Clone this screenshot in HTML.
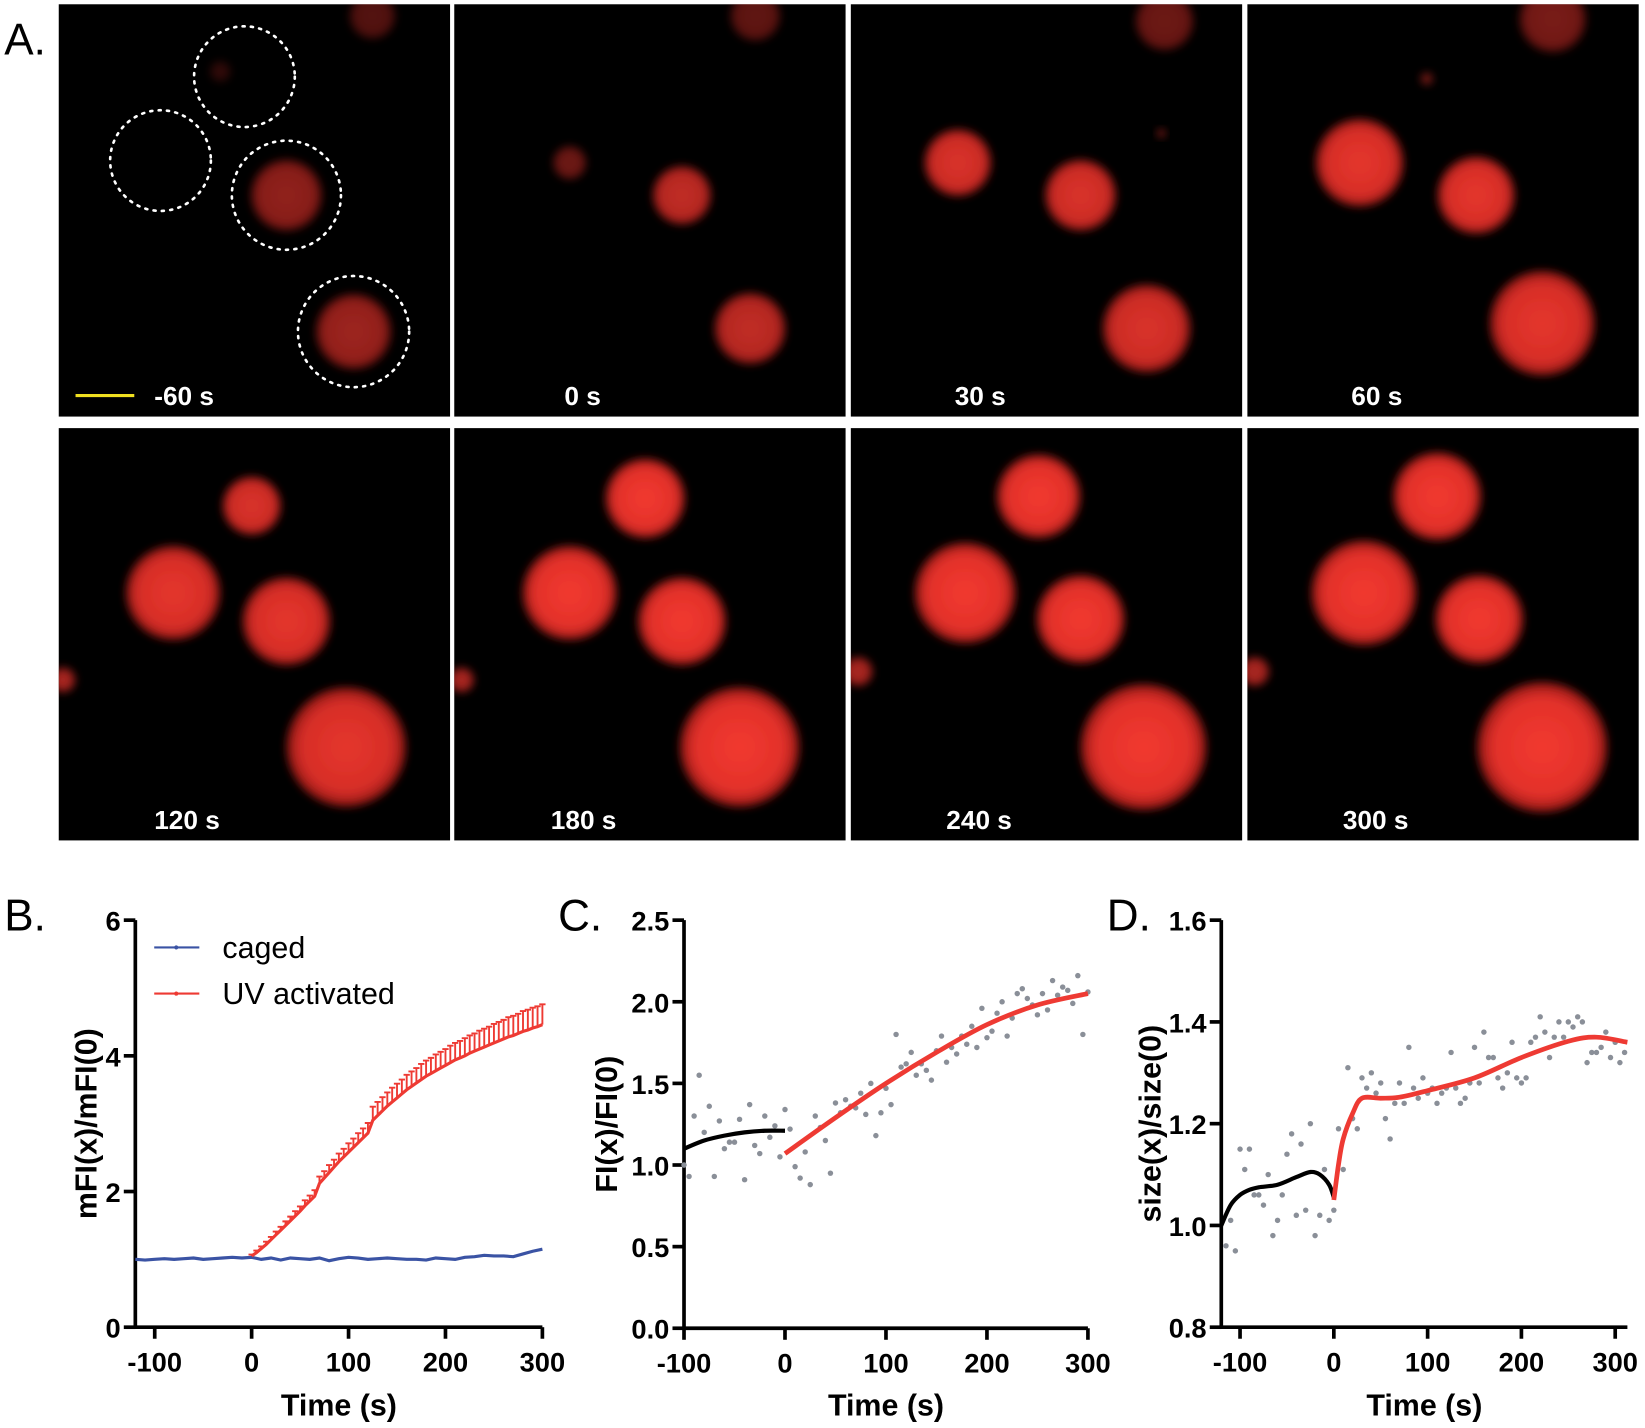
<!DOCTYPE html>
<html><head><meta charset="utf-8"><style>
html,body{margin:0;padding:0;background:#fff;}
svg{display:block;font-family:"Liberation Sans",Arial,sans-serif;}
.tick{font-weight:bold;font-size:26px;}
.lab{font-weight:bold;font-size:29px;}
.plab{font-size:42px;}
.tl{fill:#fff;font-weight:bold;font-size:25px;}
</style></head><body>
<svg id="fig" width="1645" height="1428" viewBox="0 0 1568 1361" xmlns="http://www.w3.org/2000/svg">
<defs>
<filter id="blur" x="-50%" y="-50%" width="200%" height="200%"><feGaussianBlur stdDeviation="4"/></filter>
<radialGradient id="rg"><stop offset="0" stop-color="#f23a30"/><stop offset="0.75" stop-color="#e2302a"/><stop offset="1" stop-color="#8a1612"/></radialGradient>
</defs>
<text x="4" y="52" class="plab">A.</text>
<g id="panelA"></g>
<text x="4" y="887" class="plab">B.</text>
<text x="532" y="887" class="plab">C.</text>
<text x="1055" y="887" class="plab">D.</text>
<g id="chartB"></g>
<g id="chartC"></g>
<g id="chartD"></g>
</svg>
<script>
// ---- Chart B data ----
const bBlueStart = -120, bBlueStep = 10;
const bBlue = [1.0,0.99,1.0,1.01,1.0,1.01,1.02,1.0,1.01,1.02,1.03,1.02,1.03,1.0,1.02,0.99,1.02,1.01,1.0,1.02,0.98,1.01,1.03,1.02,1.0,1.01,1.02,1.01,1.0,1.0,0.99,1.02,1.01,1.0,1.03,1.04,1.06,1.05,1.05,1.04,1.08,1.12,1.15];
const bRedStart = 0, bRedStep = 5;
const bRed = [1.05,1.1,1.16,1.22,1.29,1.36,1.43,1.5,1.57,1.64,1.71,1.79,1.86,1.93,2.12,2.2,2.28,2.36,2.44,2.51,2.58,2.65,2.72,2.79,2.86,3.05,3.12,3.19,3.26,3.32,3.38,3.44,3.5,3.55,3.6,3.65,3.7,3.74,3.78,3.82,3.86,3.9,3.94,3.97,4.0,4.04,4.07,4.1,4.13,4.16,4.19,4.22,4.25,4.28,4.3,4.33,4.36,4.38,4.41,4.43,4.46];
const bRedErr = [.02,.03,.03,.04,.04,.05,.05,.06,.06,.07,.07,.08,.08,.09,.1,.1,.11,.11,.12,.12,.13,.13,.14,.14,.15,.2,.2,.2,.2,.21,.21,.21,.22,.22,.22,.23,.23,.23,.24,.24,.24,.25,.25,.25,.26,.26,.26,.27,.27,.27,.28,.28,.28,.29,.29,.29,.3,.3,.3,.3,.3];
const bXTicks = [-100,0,100,200,300];
const bYTicks = [0,2,4,6];
// ---- Chart C data ----
const cDotT = [-100,-95,-90,-85,-80,-75,-70,-65,-60,-55,-50,-45,-40,-35,-30,-25,-20,-15,-10,-5,0,5,10,15,20,25,30,35,40,45,50,55,60,65,70,75,80,85,90,95,100,105,110,115,120,125,130,135,140,145,150,155,160,165,170,175,180,185,190,195,200,205,210,215,220,225,230,235,240,245,250,255,260,265,270,275,280,285,290,295,300];
const cDotV = [1.0,0.93,1.3,1.55,1.2,1.36,0.93,1.27,1.1,1.14,1.14,1.28,0.91,1.37,1.12,1.07,1.3,1.17,1.24,1.05,1.34,1.22,0.99,0.92,1.08,0.88,1.3,1.23,1.15,0.95,1.38,1.32,1.4,1.36,1.35,1.44,1.31,1.5,1.18,1.32,1.47,1.37,1.8,1.6,1.62,1.69,1.55,1.62,1.58,1.52,1.7,1.79,1.63,1.72,1.68,1.79,1.74,1.85,1.72,1.96,1.78,1.82,1.93,2.0,1.79,1.9,2.05,2.08,2.02,1.98,1.92,2.05,1.95,2.13,2.04,2.09,2.07,1.99,2.16,1.8,2.06];
const cBlackT = [-100,-80,-60,-40,-20,0];
const cBlackV = [1.1,1.15,1.18,1.2,1.21,1.21];
const cRedT = [0,50,100,150,200,250,300];
const cRedV = [1.07,1.29,1.5,1.69,1.86,1.98,2.05];
const cXTicks = [-100,0,100,200,300];
const cYTicks = [0.0,0.5,1.0,1.5,2.0,2.5];
// ---- Chart D data ----
const dDotT = [-115,-110,-105,-100,-95,-90,-85,-80,-75,-70,-65,-60,-55,-50,-45,-40,-35,-30,-25,-20,-15,-10,-5,0,5,10,15,20,25,30,35,40,45,50,55,60,65,70,75,80,85,90,95,100,105,110,115,120,125,130,135,140,145,150,155,160,165,170,175,180,185,190,195,200,205,210,215,220,225,230,235,240,245,250,255,260,265,270,275,280,285,290,295,300,305,310];
const dDotV = [0.96,1.01,0.95,1.15,1.11,1.15,1.06,1.06,1.04,1.1,0.98,1.01,1.06,1.14,1.18,1.02,1.16,1.03,1.2,0.98,1.02,1.11,1.01,1.03,1.19,1.11,1.31,1.21,1.19,1.29,1.27,1.3,1.26,1.28,1.21,1.17,1.24,1.28,1.24,1.35,1.27,1.25,1.29,1.26,1.27,1.24,1.26,1.27,1.34,1.27,1.24,1.25,1.28,1.35,1.28,1.38,1.33,1.33,1.29,1.27,1.3,1.36,1.29,1.28,1.29,1.36,1.37,1.41,1.38,1.33,1.37,1.4,1.37,1.4,1.39,1.41,1.4,1.32,1.34,1.34,1.35,1.38,1.33,1.36,1.32,1.34];
const dBlackT = [-120,-110,-100,-90,-80,-60,-40,-25,-15,-5,0];
const dBlackV = [1.0,1.04,1.06,1.07,1.075,1.08,1.095,1.105,1.1,1.08,1.055];
const dRedT = [0,5,10,20,30,50,70,100,150,200,250,280,313];
const dRedV = [1.05,1.12,1.17,1.22,1.25,1.25,1.252,1.265,1.29,1.33,1.362,1.37,1.36];
const dXTicks = [-100,0,100,200,300];
const dYTicks = [0.8,1.0,1.2,1.4,1.6];

const NS='http://www.w3.org/2000/svg';
function mk(tag, parent, attrs){const e=document.createElementNS(NS,tag);for(const k in attrs)e.setAttribute(k,attrs[k]);parent.appendChild(e);return e;}
function smooth(pts){let d='M'+pts[0][0]+','+pts[0][1];for(let i=0;i<pts.length-1;i++){const p0=pts[Math.max(0,i-1)],p1=pts[i],p2=pts[i+1],p3=pts[Math.min(pts.length-1,i+2)];const c1=[p1[0]+(p2[0]-p0[0])/6,p1[1]+(p2[1]-p0[1])/6],c2=[p2[0]-(p3[0]-p1[0])/6,p2[1]-(p3[1]-p1[1])/6];d+=' C'+c1[0]+','+c1[1]+' '+c2[0]+','+c2[1]+' '+p2[0]+','+p2[1];}return d;}

function axes(g, sx, sy, xmin, xmax, ymin, ymax, xt, yt, fmt, xlabel, ylabel, ylx){
  const x0=sx(xmin), x1=sx(xmax), y0=sy(ymin), y1=sy(ymax);
  const ya=mk('line',g,{x1:x0,y1:y0+1.5,x2:x0,y2:y1,stroke:'#000','stroke-width':3.5});
  
  
  const xa=mk('line',g,{x1:x0-1.5,y1:y0,x2:x1,y2:y0,stroke:'#000','stroke-width':3.5});
  
  
  xt.forEach(v=>{const x=sx(v);mk('line',g,{x1:x,y1:y0,x2:x,y2:y0+11,stroke:'#000','stroke-width':3.5});
    const t=mk('text',g,{x:x,y:y0+42,'text-anchor':'middle',class:'tick'});t.textContent=v;
    
    });
  yt.forEach(v=>{const y=sy(v);mk('line',g,{x1:x0-11,y1:y,x2:x0,y2:y,stroke:'#000','stroke-width':3.5});
    const t=mk('text',g,{x:x0-14,y:y+10,'text-anchor':'end',class:'tick'});t.textContent=fmt(v);
    
    });
  const xl=mk('text',g,{x:(x0+x1)/2,y:1349,'text-anchor':'middle',class:'lab'});xl.textContent=xlabel;
  
  
  const yl=mk('text',g,{x:0,y:0,'text-anchor':'middle',class:'lab',transform:'translate('+ylx+','+((y0+y1)/2)+') rotate(-90)'});yl.textContent=ylabel;
  
  
}

// Chart B
(function(){
  const g=document.getElementById('chartB');
  const sx=v=>129+(v+120)/420*388, sy=v=>1265-v/6*388;
  axes(g,sx,sy,-120,300,0,6,bXTicks,bYTicks,v=>v,'Time (s)','mFI(x)/mFI(0)',92);
  const bp=bBlue.map((v,i)=>[sx(bBlueStart+i*bBlueStep),sy(v)]);
  const bl=mk('polyline',g,{points:bp.map(p=>p.join(',')).join(' '),fill:'none',stroke:'#3a53a4','stroke-width':3});
  
  
  bRed.forEach((v,i)=>{const x=sx(bRedStart+i*bRedStep);
    const eb=mk('path',g,{d:'M'+x+','+sy(v)+' V'+sy(v+bRedErr[i])+' M'+(x-3)+','+sy(v+bRedErr[i])+' H'+(x+3),stroke:'#ee3a33','stroke-width':1.8,fill:'none'});
    
    });
  const rp=bRed.map((v,i)=>[sx(bRedStart+i*bRedStep),sy(v)]);
  const rl=mk('polyline',g,{points:rp.map(p=>p.join(',')).join(' '),fill:'none',stroke:'#ee3a33','stroke-width':3});
  
  
  [['caged','#3a53a4',903],['UV activated','#ee3a33',947]].forEach(l=>{
    const lg=mk('g',g,{});
    
    
    mk('line',lg,{x1:147,y1:l[2],x2:190,y2:l[2],stroke:l[1],'stroke-width':2});
    mk('circle',lg,{cx:168,cy:l[2],r:2,fill:l[1]});
    const t=mk('text',lg,{x:212,y:l[2]+10,'font-size':29});t.textContent=l[0];});
})();

function dotChart(id,sx,sy,xmin,xmax,ymin,ymax,xt,yt,fmt,yl,ylx,dt,dv,bt,bv,rt,rv){
  const g=document.getElementById(id);
  axes(g,sx,sy,xmin,xmax,ymin,ymax,xt,yt,fmt,'Time (s)',yl,ylx);
  dt.forEach((t,i)=>{const c=mk('circle',g,{cx:sx(t),cy:sy(dv[i]),r:2.6,fill:'#8a8f98'});
    
    });
  const b=mk('path',g,{d:smooth(bt.map((t,i)=>[sx(t),sy(bv[i])])),fill:'none',stroke:'#000','stroke-width':4});
  
  
  const r=mk('path',g,{d:smooth(rt.map((t,i)=>[sx(t),sy(rv[i])])),fill:'none',stroke:'#ee3a33','stroke-width':4.5});
  
  
}
dotChart('chartC',v=>652+(v+100)/400*385,v=>1266-v/2.5*389,-100,300,0,2.5,cXTicks,cYTicks,v=>v.toFixed(1),'FI(x)/FI(0)',588,cDotT,cDotV,cBlackT,cBlackV,cRedT,cRedV);
dotChart('chartD',v=>1182+(v+100)*0.894,v=>1265-(v-0.8)/0.8*388,-120,313,0.8,1.6,dXTicks,dYTicks,v=>v.toFixed(1),'size(x)/size(0)',1106,dDotT,dDotV,dBlackT,dBlackV,dRedT,dRedV);

// Panel A: microscopy frames
const frameLabels=['-60 s','0 s','30 s','60 s','120 s','180 s','240 s','300 s'];
const frameX=[56,433,811,1189];
const blobs=[
 [[355,15,22,.35],[273,186,34,.6],[337,316,36,.65],[210,68,10,.2]],
 [[720,15,24,.4],[543,155,16,.45],[650,186,28,.8],[715,313,34,.8]],
 [[1110,20,28,.45],[913,155,32,.9],[1030,186,34,.9],[1093,313,42,.9],[1107,127,4,.6]],
 [[1480,18,32,.5],[1296,155,42,.95],[1407,186,37,.95],[1470,308,50,.95],[1360,75,6,.5]],
 [[115,20,40,.4],[345,25,35,.4],[240,482,28,.9],[165,565,45,.95],[273,592,42,.95],[330,712,57,.95],[60,648,12,.7]],
 [[470,20,38,.4],[740,30,35,.4],[615,475,38,1],[543,565,45,1],[650,592,42,1],[705,712,57,1],[440,648,12,.7]],
 [[860,25,42,.45],[1120,25,40,.4],[990,473,40,1],[920,565,48,1],[1030,590,42,1],[1090,712,60,1],[818,640,14,.7]],
 [[1250,25,42,.45],[1500,30,40,.45],[1370,473,42,1],[1300,565,50,1],[1410,590,42,1],[1470,712,62,1],[1196,640,14,.7]]
];
(function(){
  const g=document.getElementById('panelA');
  const lx=[147,538,910,1288,147,525,902,1280];
  for(let i=0;i<8;i++){
    const col=i%4,row=Math.floor(i/4);const x=frameX[col],y=row?408:4;
    const fg=mk('g',g,{});
    
    
    const cp='cp'+i;const c=mk('clipPath',fg,{id:cp});mk('rect',c,{x:x,y:y,width:373,height:393});
    mk('rect',fg,{x:x,y:y,width:373,height:393,fill:'#000'});
    const bg=mk('g',fg,{'clip-path':'url(#'+cp+')'});
    blobs[i].forEach(b=>{
      const e=mk('circle',bg,{cx:b[0],cy:b[1],r:b[2],fill:'url(#rg)',opacity:b[3],filter:'url(#blur)'});
      
      });
    const t=mk('text',fg,{x:lx[i],y:y+382,class:'tl'});
    t.textContent=frameLabels[i];
    
    
  }
  const sb=mk('line',g,{x1:72,y1:377,x2:128,y2:377,stroke:'#f0e020','stroke-width':3});
  
  
  [[233,73,48],[153,153,48],[273,186,52],[337,316,53]].forEach(c=>{
    const e=mk('circle',g,{cx:c[0],cy:c[1],r:c[2],fill:'none',stroke:'#fff','stroke-width':2.5,'stroke-dasharray':'2 6','stroke-linecap':'round'});
    
    });
})();
</script>
</body></html>
